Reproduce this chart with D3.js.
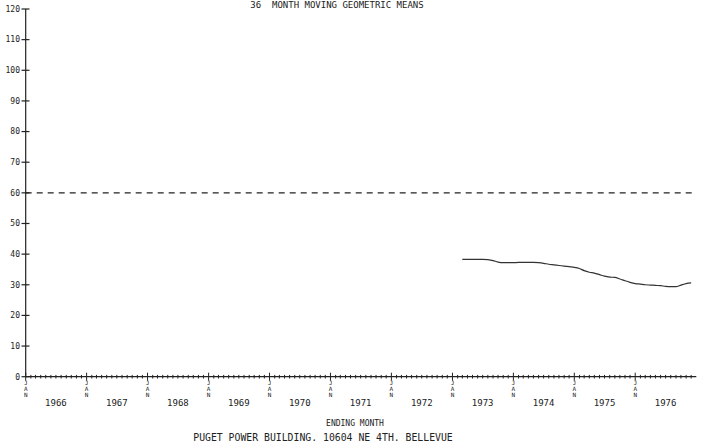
<!DOCTYPE html>
<html>
<head>
<meta charset="utf-8">
<script src="https://cdn.jsdelivr.net/npm/d3@7"></script>
<style>
  body { margin: 0; background: #fff; }
  text { font-family: "DejaVu Sans Mono", monospace; fill: #222; }
</style>
</head>
<body>
<div id="chart"></div>
<script>
// data
const title = "36  MONTH MOVING GEOMETRIC MEANS";
const xTitle = "ENDING MONTH";
const footer = "PUGET POWER BUILDING. 10604 NE 4TH. BELLEVUE";
const years = [1966, 1967, 1968, 1969, 1970, 1971, 1972, 1973, 1974, 1975, 1976];
const yTicks = [0, 10, 20, 30, 40, 50, 60, 70, 80, 90, 100, 110, 120];
const standard = 60;
const seriesStart = new Date(1973, 2, 1); // first ending month: Mar 1973
const means = [
  38.3, 38.3, 38.3, 38.3, 38.3, 38.2, 37.9, 37.4, 37.2, 37.2,
  37.2, 37.3, 37.3, 37.3, 37.3, 37.2, 37.0, 36.7, 36.5, 36.3,
  36.1, 35.9, 35.7, 35.3, 34.6, 34.1, 33.8, 33.3, 32.8, 32.5,
  32.4, 31.9, 31.3, 30.8, 30.4, 30.2, 30.0, 29.9, 29.8, 29.7,
  29.5, 29.4, 29.4, 29.9, 30.4, 30.6
];

const width = 706, height = 448;
const svg = d3.select("#chart").append("svg")
  .attr("width", width).attr("height", height);

const x = d3.scaleTime()
  .domain([new Date(1966, 0, 1), new Date(1977, 0, 1)])
  .range([25.7, 696.3]);
const y = d3.scaleLinear().domain([0, 120]).range([376.7, 9]);

const ink = "#222";

// y axis
svg.append("line")
  .attr("x1", x.range()[0]).attr("x2", x.range()[0])
  .attr("y1", y(0)).attr("y2", y(120))
  .attr("stroke", ink).attr("stroke-width", 1.2);

const yt = svg.append("g").selectAll("g").data(yTicks).enter().append("g")
  .attr("transform", d => `translate(0,${y(d)})`);
yt.append("line")
  .attr("x1", 21.5).attr("x2", 29.5)
  .attr("stroke", ink).attr("stroke-width", 1.2);
yt.append("text")
  .attr("x", 20).attr("dy", "0.35em")
  .attr("text-anchor", "end")
  .attr("font-size", 8)
  .text(d => d);

// x axis
svg.append("line")
  .attr("x1", x.range()[0]).attr("x2", x.range()[1])
  .attr("y1", y(0)).attr("y2", y(0))
  .attr("stroke", ink).attr("stroke-width", 1.2);

const months = d3.timeMonth.range(new Date(1966, 0, 1), new Date(1977, 0, 1));
svg.append("g").selectAll("line").data(months).enter().append("line")
  .attr("x1", d => x(d)).attr("x2", d => x(d))
  .attr("y1", d => d.getMonth() === 0 ? y(0) - 4 : y(0) - 1.8)
  .attr("y2", d => d.getMonth() === 0 ? y(0) + 4 : y(0) + 1.8)
  .attr("stroke", ink).attr("stroke-width", 1);

// JAN labels stacked vertically
const jan = svg.append("g").selectAll("g").data(years).enter().append("g")
  .attr("transform", d => `translate(${x(new Date(d, 0, 1))},0)`);
["J", "A", "N"].forEach((ch, i) => {
  jan.append("text")
    .attr("y", 385 + i * 6)
    .attr("text-anchor", "middle")
    .attr("font-size", 6)
    .text(ch);
});

// year labels centred in each year
svg.append("g").selectAll("text").data(years).enter().append("text")
  .attr("x", d => x(new Date(d, 6, 1)))
  .attr("y", 406)
  .attr("text-anchor", "middle")
  .attr("font-size", 9)
  .text(d => d);

// standard line
svg.append("line")
  .attr("x1", x.range()[0]).attr("x2", x.range()[1])
  .attr("y1", y(standard)).attr("y2", y(standard))
  .attr("stroke", ink).attr("stroke-width", 1.2)
  .attr("stroke-dasharray", "6,5");

// moving geometric mean
const pts = means.map((v, i) => ({ date: d3.timeMonth.offset(seriesStart, i), value: v }));
svg.append("path")
  .datum(pts)
  .attr("fill", "none")
  .attr("stroke", "#333")
  .attr("stroke-width", 1.2)
  .attr("d", d3.line().x(d => x(d.date)).y(d => y(d.value)).curve(d3.curveMonotoneX));

// titles
svg.append("text")
  .attr("x", 337).attr("y", 8)
  .attr("text-anchor", "middle")
  .attr("font-size", 9)
  .attr("xml:space", "preserve")
  .text(title);
svg.append("text")
  .attr("x", 355).attr("y", 426)
  .attr("text-anchor", "middle")
  .attr("font-size", 8)
  .text(xTitle);
svg.append("text")
  .attr("x", 323).attr("y", 441)
  .attr("text-anchor", "middle")
  .attr("font-size", 9.8)
  .text(footer);
</script>
</body>
</html>
